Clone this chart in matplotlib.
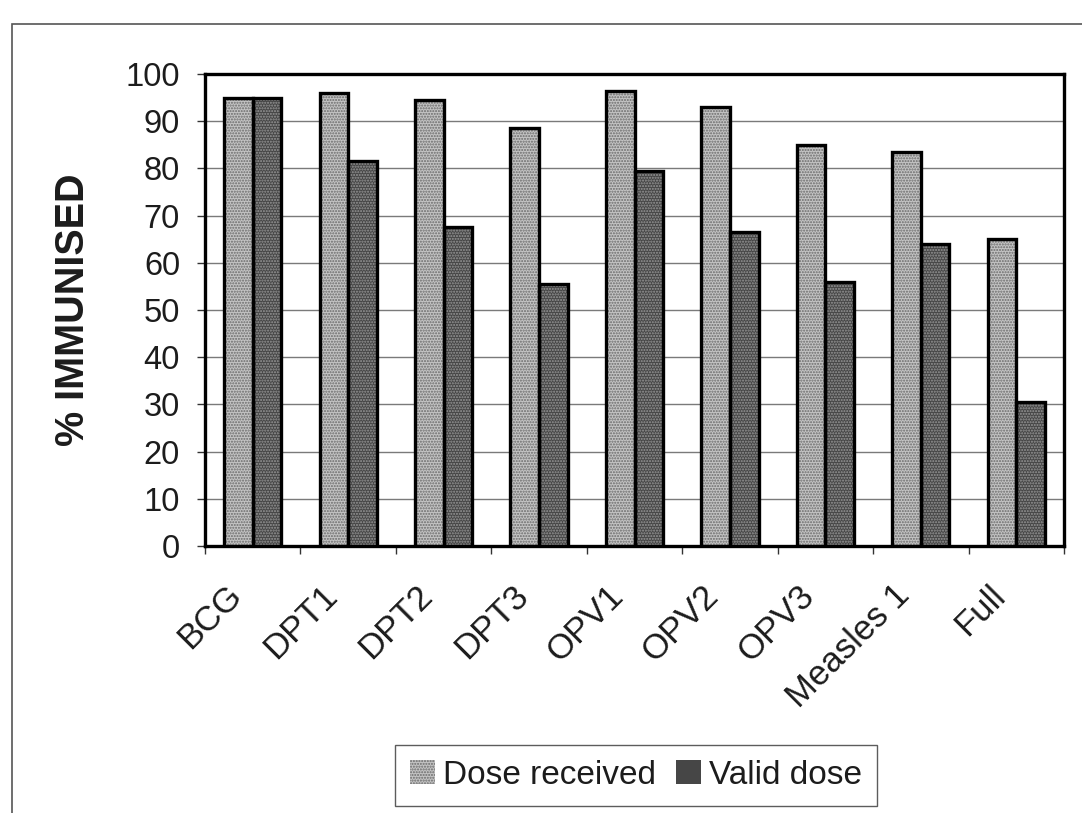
import matplotlib
matplotlib.use("Agg")
import matplotlib.pyplot as plt
import matplotlib.transforms as mtransforms
from matplotlib.patches import Rectangle, Patch
import numpy as np

plt.rcParams['font.family'] = ['Liberation Sans', 'DejaVu Sans']

categories = ["BCG", "DPT1", "DPT2", "DPT3", "OPV1", "OPV2", "OPV3", "Measles 1", "Full"]
dose_received = [95, 96, 94.5, 88.5, 96.5, 93, 85, 83.5, 65]
valid_dose = [95, 81.5, 67.5, 55.5, 79.5, 66.5, 56, 64, 30.5]
series_names = ["Dose received", "Valid dose"]
yticks = [0, 10, 20, 30, 40, 50, 60, 70, 80, 90, 100]

TEXT = "#1c1c1c"
W, H = 1082, 813
fig = plt.figure(figsize=(W / 100, H / 100), dpi=100)
ax = fig.add_axes([205 / W, 1 - 546 / H, (1064 - 205) / W, (546 - 74) / H])

x = np.arange(len(categories))
bw = 0.3

styles = [
    dict(face="#c4c4c4", dots="#6a6a6a"),
    dict(face="#464646", dots="#989898"),
]

for k, (vals, st) in enumerate(zip([dose_received, valid_dose], styles)):
    pos = x + (k - 0.5) * bw
    ax.bar(pos, vals, bw, color=st["face"], edgecolor="none", zorder=3)
    plt.rcParams['hatch.linewidth'] = 1.0
    ax.bar(pos, vals, bw, color="none", hatch="......", edgecolor=st["dots"],
           linewidth=0, zorder=3.5)
    ax.bar(pos, vals, bw, color="none", edgecolor="black", linewidth=2.4, zorder=4)

ax.set_xlim(-0.5, len(categories) - 0.5)
ax.set_ylim(0, 100)
ax.set_yticks(yticks)
ax.set_yticklabels([str(v) for v in yticks], fontsize=23.5, color=TEXT)

ax.set_xticks(x)
ax.set_xticklabels(categories, fontsize=25, rotation=45, ha="right",
                   rotation_mode="anchor", color=TEXT)
ax.set_xticks(np.arange(len(categories) + 1) - 0.5, minor=True)
ax.tick_params(axis="x", which="major", length=0, pad=28)
ax.tick_params(axis="x", which="minor", length=6, width=1, direction="out", color="#333333")
ax.tick_params(axis="y", length=6, width=1, direction="out", pad=12, color="#333333")

# nudge category labels so their ends sit left of the group centres
shift = mtransforms.ScaledTranslation(-28 / 100, 6 / 100, fig.dpi_scale_trans)
for lab in ax.get_xticklabels():
    lab.set_transform(lab.get_transform() + shift)

ax.yaxis.grid(True, color="#7a7a7a", linewidth=1.0, zorder=1)
ax.set_axisbelow(True)
for s in ax.spines.values():
    s.set_linewidth(2.4)
    s.set_color("black")

ax.set_ylabel("% IMMUNISED", fontsize=28.5, fontweight="bold", labelpad=24, color=TEXT)

handles = [
    Patch(facecolor=styles[0]["face"], edgecolor=styles[0]["dots"], hatch="......",
          linewidth=0, label=series_names[0]),
    Patch(facecolor=styles[1]["face"], edgecolor="none", label=series_names[1]),
]
leg = fig.legend(handles=handles, loc="center", bbox_to_anchor=(636 / W, 1 - 775 / H),
                 ncol=2, fontsize=24, frameon=True, fancybox=False, edgecolor="#333333",
                 handlelength=0.75, handleheight=0.75, handletextpad=0.25,
                 columnspacing=0.6, borderpad=0.45, labelcolor=TEXT)
leg.get_frame().set_linewidth(1.0)

# surrounding page frame
fig.add_artist(Rectangle((12 / W, -0.05), 1.2, 1 - 24 / H + 0.05, transform=fig.transFigure,
                         fill=False, edgecolor="#555555", linewidth=1.2))

fig.savefig("out.png", dpi=100, facecolor="white")
